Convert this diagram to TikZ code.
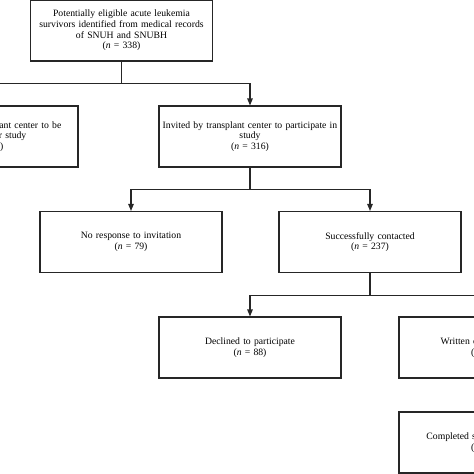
\documentclass[tikz,border=0pt]{standalone}
\usepackage{fontspec}
\setmainfont{Liberation Serif}
\usetikzlibrary{arrows.meta,calc}
\begin{document}
\begin{tikzpicture}[x=1pt,y=-1pt,
  box/.style={draw=black!85, line width=1.1pt, minimum width=182pt, minimum height=61pt,
    text width=178pt, align=center, inner sep=0pt,
    font=\fontsize{9.7}{10.7}\selectfont},
  arr/.style={draw=black!85, line width=1.1pt, -{Triangle[length=7pt,width=5.5pt]}},
  ln/.style={draw=black!85, line width=1.1pt}]
\useasboundingbox (0,0) rectangle (474,474);
\clip (0,0) rectangle (474,474);
\node[box] (top) at (121.5,30.5) {Potentially eligible acute leukemia\\survivors identified from medical records\\of SNUH and SNUBH\\(\textit{n} = 338)};
\node[box] (excl) at (-13,136.5) {Considered by transplant center to be\\unsuitable for study\\(\textit{n} = 22)};
\node[box] (inv) at (250,136.5) {Invited by transplant center to participate in\\study\\(\textit{n} = 316)};
\node[box] (nores) at (131,242) {No response to invitation\\(\textit{n} = 79)};
\node[box] (succ) at (370,242) {Successfully contacted\\(\textit{n} = 237)};
\node[box] (decl) at (250,347.5) {Declined to participate\\(\textit{n} = 88)};
\node[box] (writ) at (490,347.5) {Written consent obtained\\(\textit{n} = 149)};
\node[box] (comp) at (490,442.5) {Completed survey questionnaire\\(\textit{n} = 149)};
\coordinate (j1) at ($(top.south)+(0,22)$);
\draw[arr] (top.south) -- (j1) -| (inv.north);
\draw[arr] (j1) -| (excl.north);
\coordinate (j2) at ($(inv.south)+(0,22)$);
\draw[arr] (inv.south) -- (j2) -| (nores.north);
\draw[arr] (j2) -| (succ.north);
\coordinate (j3) at ($(succ.south)+(0,22)$);
\draw[arr] (succ.south) -- (j3) -| (decl.north);
\draw[arr] (j3) -| (writ.north);
\draw[arr] (writ.south) -- (comp.north);
\end{tikzpicture}
\end{document}
